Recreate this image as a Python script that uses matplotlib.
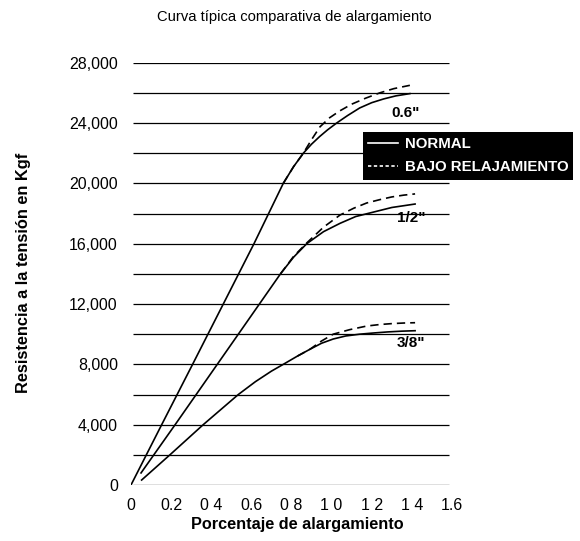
import matplotlib
matplotlib.use("Agg")
import matplotlib.pyplot as plt
from matplotlib.lines import Line2D

FAM = ['Liberation Sans', 'DejaVu Sans']

# ---- data ----
x_06_normal = [0, 0.153, 0.307, 0.46, 0.613, 0.759, 0.81, 0.859, 0.90, 0.94, 0.98, 1.025, 1.08, 1.14, 1.20, 1.26, 1.32, 1.39]
y_06_normal = [0, 4000, 8000, 12000, 16000, 20000, 21100, 22000, 22600, 23100, 23550, 24000, 24500, 25000, 25350, 25600, 25800, 25950]
x_06_bajo = [0.759, 0.81, 0.859, 0.90, 0.942, 0.99, 1.04, 1.10, 1.17, 1.24, 1.31, 1.39]
y_06_bajo = [20000, 21100, 22000, 22900, 23750, 24350, 24800, 25250, 25650, 26000, 26280, 26500]

x_12_normal = [0.05, 0.22, 0.43, 0.535, 0.64, 0.745, 0.81, 0.876, 0.96, 1.042, 1.12, 1.21, 1.30, 1.416]
y_12_normal = [800, 4000, 8000, 10000, 12000, 14000, 15100, 16000, 16800, 17350, 17800, 18100, 18400, 18630]
x_12_bajo = [0.745, 0.81, 0.876, 0.96, 1.042, 1.11, 1.175, 1.24, 1.30, 1.36, 1.416]
y_12_bajo = [14000, 15150, 16050, 17100, 17900, 18350, 18700, 18920, 19100, 19220, 19300]

x_38_normal = [0.053, 0.194, 0.36, 0.535, 0.62, 0.70, 0.759, 0.83, 0.892, 0.95, 1.008, 1.07, 1.14, 1.21, 1.28, 1.35, 1.416]
y_38_normal = [330, 2000, 4000, 6000, 6850, 7550, 8000, 8550, 9000, 9400, 9680, 9880, 10000, 10080, 10150, 10200, 10230]
x_38_bajo = [0.83, 0.892, 0.95, 1.008, 1.09, 1.175, 1.24, 1.30, 1.36, 1.416]
y_38_bajo = [8550, 9000, 9550, 10000, 10300, 10540, 10640, 10700, 10740, 10760]

size_labels = ['0.6"', '1/2"', '3/8"']
size_label_x = [1.30, 1.325, 1.326]
size_label_y = [24650, 17700, 9400]

x_ticks = [0, 0.2, 0.4, 0.6, 0.8, 1.0, 1.2, 1.4, 1.6]
x_tick_labels = ['0', '0.2', '0 4', '0.6', '0 8', '1 0', '1 2', '1 4', '1.6']
y_ticks = [0, 4000, 8000, 12000, 16000, 20000, 24000, 28000]
y_tick_labels = ['0', '4,000', '8,000', '12,000', '16,000', '20,000', '24,000', '28,000']
grid_y = list(range(0, 28001, 2000))

legend_labels = ['NORMAL', 'BAJO RELAJAMIENTO']
title = 'Curva típica comparativa de alargamiento'
xlabel = 'Porcentaje de alargamiento'
ylabel = 'Resistencia a la tensión en Kgf'

# ---- figure ----
W, H = 580, 541
fig = plt.figure(figsize=(W / 100, H / 100), dpi=100)
ax = fig.add_axes([131 / W, (H - 485) / H, 321 / W, (485 - 62.7) / H])
ax.set_xlim(0, 1.6)
ax.set_ylim(0, 28000)
for s in ax.spines.values():
    s.set_visible(False)

ax.hlines(grid_y, 0.01, 1.585, colors='black', linewidth=0.9, zorder=1)

lw = 1.2
dash = (0, (5, 3))
ax.plot(x_06_normal, y_06_normal, color='black', lw=lw, zorder=3)
ax.plot(x_06_bajo, y_06_bajo, color='black', lw=lw, linestyle=dash, zorder=3)
ax.plot(x_12_normal, y_12_normal, color='black', lw=lw, zorder=3)
ax.plot(x_12_bajo, y_12_bajo, color='black', lw=lw, linestyle=dash, zorder=3)
ax.plot(x_38_normal, y_38_normal, color='black', lw=lw, zorder=3)
ax.plot(x_38_bajo, y_38_bajo, color='black', lw=lw, linestyle=dash, zorder=3)

for lab, lx, ly in zip(size_labels, size_label_x, size_label_y):
    ax.text(lx, ly, lab, ha='left', va='center', fontsize=11, fontweight='bold',
            family=FAM, zorder=4)

ax.set_xticks(x_ticks)
ax.set_xticklabels(x_tick_labels, family=FAM, fontsize=11.5)
ax.set_yticks(y_ticks)
ax.set_yticklabels(y_tick_labels, family=FAM, fontsize=11.5)
ax.tick_params(axis='both', length=0)
ax.tick_params(axis='x', pad=9)
ax.tick_params(axis='y', pad=9.5)

# legend
handles = [Line2D([], [], color='white', lw=1.2),
           Line2D([], [], color='white', lw=1.2, linestyle=(0, (2, 1.5)))]
leg = fig.legend(handles, legend_labels, loc='upper left',
                 bbox_to_anchor=(363 / W, 1 - 132 / H), borderaxespad=0,
                 frameon=True, facecolor='black', edgecolor='black', framealpha=1,
                 fancybox=False, handlelength=2.0, handletextpad=0.42,
                 borderpad=0.35, labelspacing=0.6,
                 prop={'family': FAM, 'weight': 'bold', 'size': 10.8})
leg.get_frame().set_linewidth(0)
for t in leg.get_texts():
    t.set_color('white')

fig.text(294 / W, 1 - 17 / H, title, ha='center', va='center', fontsize=10.6, family=FAM)
fig.text(297 / W, 1 - 524 / H, xlabel, ha='center', va='center', fontsize=11.7,
         fontweight='bold', family=FAM)
fig.text(24 / W, 1 - 273 / H, ylabel, ha='center', va='center', fontsize=11.8,
         fontweight='bold', rotation=90, family=FAM)

fig.savefig('out.png', dpi=100)
